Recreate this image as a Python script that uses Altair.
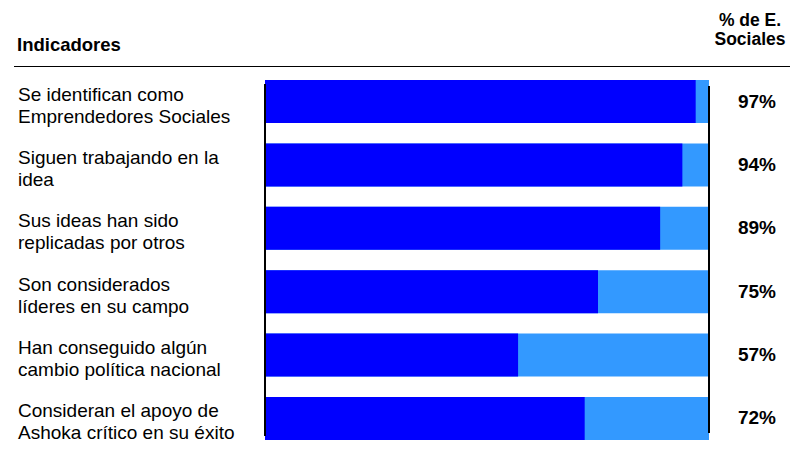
import altair as alt
import pandas as pd

labels = [
    "Se identifican como\nEmprendedores Sociales",
    "Siguen trabajando en la\nidea",
    "Sus ideas han sido\nreplicadas por otros",
    "Son considerados\nlíderes en su campo",
    "Han conseguido algún\ncambio política nacional",
    "Consideran el apoyo de\nAshoka crítico en su éxito",
]
values = [97, 94, 89, 75, 57, 72]
total = [100, 100, 100, 100, 100, 100]
header_left = "Indicadores"
header_right = "% de E.\nSociales"

df = pd.DataFrame({
    "label": labels,
    "value": values,
    "total": total,
    "pct": [f"{v}%" for v in values],
})

FONT = "Liberation Sans"
DARK = "#0000FF"
LIGHT = "#3399FF"

xs = alt.Scale(domain=[0, 100], nice=False, zero=True)
ys = alt.Scale(domain=labels, paddingInner=0.32, paddingOuter=0)

base = alt.Chart(df)

light = base.mark_bar(color=LIGHT, cornerRadius=0).encode(
    x=alt.X("total:Q", scale=xs, axis=None),
    y=alt.Y("label:N", scale=ys, axis=None, sort=labels),
)
dark = base.mark_bar(color=DARK, cornerRadius=0).encode(
    x=alt.X("value:Q", scale=xs, axis=None),
    y=alt.Y("label:N", scale=ys, axis=None, sort=labels),
)
names = base.mark_text(
    align="left", baseline="middle", font=FONT, fontSize=19,
    lineBreak="\n", lineHeight=22, dy=-7, color="#000000",
).encode(
    x=alt.value(-247),
    y=alt.Y("label:N", scale=ys, axis=None, sort=labels, bandPosition=0.5),
    text="label:N",
)
pcts = base.mark_text(
    align="center", baseline="middle", font=FONT, fontSize=19,
    fontWeight="bold", color="#000000",
).encode(
    x=alt.value(492),
    y=alt.Y("label:N", scale=ys, axis=None, sort=labels, bandPosition=0.5),
    text="pct:N",
)

left_line = alt.Chart(df).mark_rule(color="#000000", strokeWidth=1.5).encode(
    x=alt.datum(0, scale=xs), y=alt.value(4), y2=alt.value(356)
)
right_line = alt.Chart(df).mark_rule(color="#000000", strokeWidth=1.5).encode(
    x=alt.datum(100, scale=xs), y=alt.value(6), y2=alt.value(353)
)
header_rule = alt.Chart(df).mark_rule(color="#000000", strokeWidth=1.2).encode(
    x=alt.value(-251), x2=alt.value(525), y=alt.value(-13.5)
)

hdf = pd.DataFrame({"t": [header_left]})
hdf2 = pd.DataFrame({"t": [header_right]})
h_left = alt.Chart(hdf).mark_text(
    align="left", baseline="alphabetic", font=FONT, fontSize=18.5,
    fontWeight="bold", color="#000000",
).encode(x=alt.value(-248), y=alt.value(-29), text="t:N")
h_right = alt.Chart(hdf2).mark_text(
    align="center", baseline="alphabetic", font=FONT, fontSize=17.5,
    fontWeight="bold", color="#000000", lineBreak="\n", lineHeight=19,
).encode(x=alt.value(485), y=alt.value(-54), text="t:N")

chart = alt.layer(
    light, dark, left_line, right_line, header_rule, names, pcts, h_left, h_right
).properties(
    width=444, height=360,
    autosize=alt.AutoSizeParams(type="none"),
    padding={"left": 257, "top": 72, "right": 81, "bottom": 4},
).configure_view(stroke=None)

chart.save("out.html", embed_options={"renderer": "svg", "actions": False})
